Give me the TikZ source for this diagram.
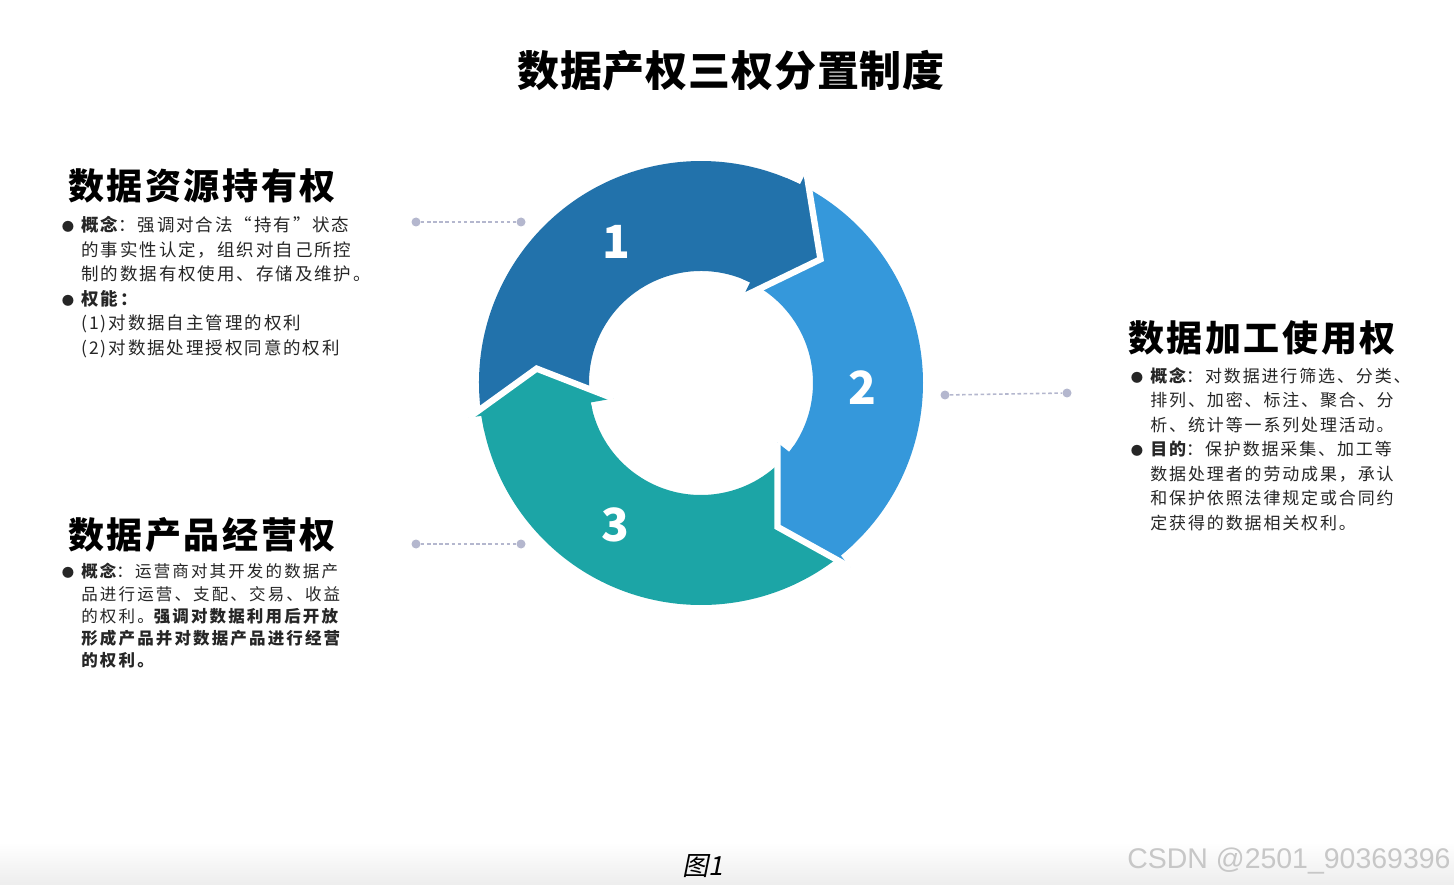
\documentclass[tikz,border=0pt]{standalone}
\usepackage{fontspec}
\setmainfont{Noto Sans CJK SC}
\newfontfamily\capfont{Noto Sans CJK SC}[FakeSlant=0.2]
\newfontfamily\wmfont{Liberation Sans}

\definecolor{quanA}{HTML}{2272AB}
\definecolor{quanB}{HTML}{3598DB}
\definecolor{quanC}{HTML}{1CA5A6}
\definecolor{lianxian}{HTML}{B4B7CE}

\newcommand{\bul}{\makebox[0.42cm][l]{\hspace{0.03cm}{\fontsize{7pt}{7pt}\selectfont ●}}}
\newcommand{\ind}{\hspace*{0.42cm}}

\begin{document}
\begin{tikzpicture}[x=0.02cm, y=-0.02cm, >=stealth,
    gapline/.style={draw=white, line width=3.6pt, line join=miter},
    dotnode/.style={circle, fill=lianxian, inner sep=0pt, minimum size=0.18cm},
    linkline/.style={lianxian, dash pattern=on 2pt off 1.5pt, line width=0.9pt},
    headtext/.style={anchor=base west, inner sep=0pt, font={\fontsize{20.5pt}{24pt}\selectfont\bfseries\addfontfeature{LetterSpace=7}}},
    bodytext/.style={anchor=north west, inner sep=0pt, align=left, text=black!85},
    numtext/.style={text=white, font={\fontsize{26pt}{26pt}\selectfont\bfseries}}]
    % 画布
    \fill[white] (0,0) rectangle (1454,885);
    \useasboundingbox (0,0) rectangle (1454,885);
    \shade[top color=white, bottom color=black!7] (0,842) rectangle (1454,885);

    % 标题
    \node[font={\fontsize{23.9pt}{28pt}\selectfont\bfseries\addfontfeature{LetterSpace=2}}] (biaoti) at (731,71) {数据产权三权分置制度};

    % 三段环形箭头
    \begin{scope}[shift={(701,383)}, yscale=-1]
        \def\Rout{222}
        \def\Rin{112}
        % 箭头主体
        \fill[quanA] (188.5:\Rout) arc[start angle=188.5, end angle=63.5, radius=\Rout]
            -- (64:\Rin) arc[start angle=64, end angle=190, radius=\Rin] -- cycle;
        \fill[quanB] (63.5:\Rout) arc[start angle=63.5, end angle=-51, radius=\Rout]
            -- (-38:\Rin) arc[start angle=-38, end angle=64, radius=\Rin] -- cycle;
        \fill[quanC] (-51:\Rout) arc[start angle=-51, end angle=-171.5, radius=\Rout]
            -- (-170:\Rin) arc[start angle=-170, end angle=-38, radius=\Rin] -- cycle;
        % 箭头头部
        \fill[quanA] (63.5:236) -- (46:172) -- (64:96) -- (64:\Rin) -- (68:\Rin)
            -- (67.5:\Rout) -- (63.5:\Rout) -- cycle;
        \draw[gapline] (63.5:236) -- (46:172) -- (64:96);
        \fill[quanB] (-51:237) -- (-62:163) -- (-38:97) -- (-38:\Rin) -- (-34:\Rin)
            -- (-47:\Rout) -- (-51:\Rout) -- cycle;
        \draw[gapline] (-51:237) -- (-62:163) -- (-38:97);
        \fill[quanC] (-171.5:235) -- (-185:165) -- (-170:89) -- (-170:\Rin) -- (-166:\Rin)
            -- (-167.5:\Rout) -- (-171.5:\Rout) -- cycle;
        \draw[gapline] (-171.5:235) -- (-185:165) -- (-170:89);
    \end{scope}

    % 序号
    \node[numtext] (num1) at (616,242) {1};
    \node[numtext] (num2) at (862,388) {2};
    \node[numtext] (num3) at (615,525) {3};

    % 虚线连接
    \node[dotnode] (d1a) at (416,222) {};
    \node[dotnode] (d1b) at (521,222) {};
    \node[dotnode] (d2a) at (945,395) {};
    \node[dotnode] (d2b) at (1067,393) {};
    \node[dotnode] (d3a) at (416,544) {};
    \node[dotnode] (d3b) at (521,544) {};
    \draw[linkline] (d1a) -- (d1b);
    \draw[linkline] (d2a) -- (d2b);
    \draw[linkline] (d3a) -- (d3b);

    % 数据资源持有权
    \node[headtext] (chiyou) at (68,200) {数据资源持有权};
    \node[bodytext, font={\fontsize{9.96pt}{13.94pt}\selectfont\addfontfeature{LetterSpace=11}}] (chiyoutxt) at (60,216) {%
        \bul{\bfseries 概念}：强调对合法“持有”状态\\
        \ind 的事实性认定，组织对自己所控\\
        \ind 制的数据有权使用、存储及维护。\\
        \bul{\bfseries 权能：}\\
        \ind (1)对数据自主管理的权利\\
        \ind (2)对数据处理授权同意的权利};

    % 数据加工使用权
    \node[headtext] (jiagong) at (1128,351) {数据加工使用权};
    \node[bodytext, font={\fontsize{9.67pt}{13.94pt}\selectfont\addfontfeature{LetterSpace=11}}] (jiagongtxt) at (1129,367) {%
        \bul{\bfseries 概念}：对数据进行筛选、分类、\\
        \ind 排列、加密、标注、聚合、分\\
        \ind 析、统计等一系列处理活动。\\
        \bul{\bfseries 目的}：保护数据采集、加工等\\
        \ind 数据处理者的劳动成果，承认\\
        \ind 和保护依照法律规定或合同约\\
        \ind 定获得的数据相关权利。};

    % 数据产品经营权
    \node[headtext] (jingying) at (68,548) {数据产品经营权};
    \node[bodytext, font={\fontsize{9.39pt}{12.7pt}\selectfont\addfontfeature{LetterSpace=13}}] (jingyingtxt) at (60,563) {%
        \bul{\bfseries 概念}：运营商对其开发的数据产\\
        \ind 品进行运营、支配、交易、收益\\
        \ind 的权利。{\bfseries 强调对数据利用后开放}\\
        \ind {\bfseries 形成产品并对数据产品进行经营}\\
        \ind {\bfseries 的权利。}};

    % 图注与水印
    \node[font={\capfont\fontsize{15pt}{15pt}\selectfont}] (tuzhu) at (703,866) {图1};
    \node[anchor=base west, inner sep=0pt, text=black!22, font={\wmfont\fontsize{16.2pt}{16.2pt}\selectfont}] (shuiyin) at (1127,868) {CSDN @2501\_90369396};
\end{tikzpicture}
\end{document}
